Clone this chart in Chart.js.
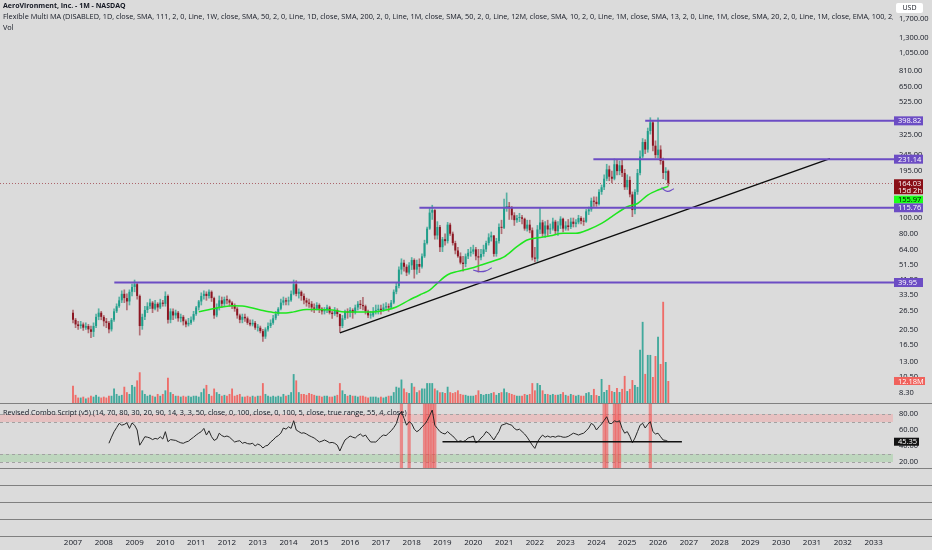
<!DOCTYPE html>
<html><head><meta charset="utf-8">
<script src="https://cdn.jsdelivr.net/npm/chart.js@4.4.1/dist/chart.umd.min.js"></script>
<style>
html,body{margin:0;padding:0;background:#dbdbdb;}
#wrap{position:relative;width:932px;height:550px;overflow:hidden;background:#dbdbdb;font-family:'Open Sans',sans-serif;}
canvas{position:absolute;left:0;}
.sep{position:absolute;left:0;width:932px;height:1px;background:#808080;}
.txt{position:absolute;left:3px;white-space:nowrap;overflow:hidden;color:#131722;font-size:7.3px;line-height:10px;}
#usd{position:absolute;left:896px;top:3px;width:27px;height:10px;background:#fff;border-radius:2px;font-size:7px;line-height:10px;text-align:center;color:#131722;}
</style></head><body>
<div id="wrap">
<canvas id="cp" width="932" height="403" style="top:0"></canvas>
<canvas id="cr" width="932" height="64" style="top:404px"></canvas>
<canvas id="cx" width="932" height="81" style="top:469px"></canvas>
<div class="sep" style="top:403px"></div>
<div class="sep" style="top:468px"></div>
<div class="sep" style="top:485px"></div>
<div class="sep" style="top:502px"></div>
<div class="sep" style="top:519px"></div>
<div class="sep" style="top:536px"></div>
<div class="txt" style="top:1px;font-weight:bold;font-size:7px;">AeroVironment, Inc. - 1M - NASDAQ</div>
<div class="txt" style="top:11px;width:890px;">Flexible Multi MA (DISABLED, 1D, close, SMA, 111, 2, 0, Line, 1W, close, SMA, 50, 2, 0, Line, 1D, close, SMA, 200, 2, 0, Line, 1M, close, SMA, 50, 2, 0, Line, 12M, close, SMA, 10, 2, 0, Line, 1M, close, SMA, 13, 2, 0, Line, 1M, close, SMA, 20, 2, 0, Line, 1M, close, EMA, 100, 2, 0, Line)</div>
<div class="txt" style="top:22px;">Vol</div>
<div class="txt" style="top:407px;font-size:7.3px;">Revised Combo Script (v5) (14, 70, 80, 30, 20, 90, 14, 3, 3, 50, close, 0, 100, close, 0, 100, 5, close, true range, 55, 4, close)</div>
<div id="usd">USD</div>
</div>
<script>
// ---------- DATA (monthly, Jan 2007 .. May 2026) ----------
const opens = [
 26,23.5,22,21.5,22,21,21.5,20.5,19.8,21.5,24.5,26,
 24.5,23,22.5,20.5,23.5,26.5,28.5,31,34,32,30.5,35,
 37.5,39,33,21.5,24.5,27,28.5,30,27.5,29.5,28,30,
 29.5,33,23.5,26.5,25,26,24,24.5,23,22,22.5,23.5,
 25.5,28,30.5,33,34,33,35,32,25,28,31,29.5,
 31.5,31,30,29,27.5,25,23.5,24.5,24,22.5,22,22.5,
 21,21,20,18.5,20.5,21.5,22.5,24,25.5,27.5,30,31,
 30.5,31,34,39,34,35,33,31,30,29.5,28,27.5,
 29,27.5,26.5,27,28,26,25.5,27,25.5,21.5,24,26.5,
 26,27,26,28,29.5,29,28.5,26.5,25,25,26.5,27,
 27.5,27,28,28.5,28,30,35,38,48,53,50,46,
 51,55,48,52,50,58,70,86,108,112,78,88,
 66,74,72,91,80,70,63,58,53,52,58,61,
 62,64,58,57,60,64,70,76,78,60,72,88,
 87,117,118,116,104,97,100,101,99,86,91,84,
 57,56,85,94,80,90,85,86,95,83,90,99,
 86,90,88,95,92,94,100,96,95,110,113,128,
 126,122,145,155,175,200,180,175,215,195,212,190,
 155,172,140,112,145,190,240,295,265,345,390,280,
 245,265,225,190,195];
const highs = [
 27,24,23,23,22.5,22.5,22,21.5,22.5,25.5,27.5,26.5,
 25,24,23,24,27.5,29.5,32.5,35.5,36,34,36,39,
 41.4,40,33.5,25.5,28.5,30,31.5,30.5,31,30,31.5,31,
 35,33.5,27.5,27.5,27,26.5,25.5,25,23.5,24,24.5,26.5,
 28.5,31,34.5,35.5,35,36,35.5,32.5,29.5,33,32.5,32.5,
 33,31.5,30.5,29.5,28,25.5,25.5,25.5,24.5,23.5,23.5,23,
 22,21.5,20.5,21,22.5,23.5,25,26.5,28,31.5,32.5,32,
 32.5,35.5,41.4,41,36.5,35.5,34,32,31.5,30.5,29.5,30,
 29.5,28,28,29,28.5,26.5,28,27.5,25.5,25,27,27.5,
 28,27.5,29,30.5,31,32.4,29,27,26.5,28,29,29,
 29,29.5,30,29.5,31,36,39.5,50,56,55,51.5,53,
 57,56,55,56,60,73,88,115,120,113,95,90,
 76,80,94,93,82,72,66,61,58,60,64,66,
 68,66,64,64,68,72,80,82,78,75,92,97,
 131,143,125,118,108,104,107,104,100,97,97,87,
 66,90,115,97,95,97,92,100,97,95,102,100,
 95,98,100,100,98,104,102,100,113,117,133,135,
 135,150,160,185,215,210,195,232,228,225,230,200,
 185,180,145,150,200,260,310,305,360,417,400,300,
 416,280,235,205,198];
const lows = [
 22.5,21,20.5,20.8,20.2,20.5,19.5,18.2,18.5,21,23.5,23.5,
 21.5,21,19.5,20,23,26,28,30,30,27,29,33,
 35,31.5,18.9,20.5,23.5,26,27.5,26,27,26.5,27.5,28.5,
 28.5,22.4,22.5,23.5,24,23,22.8,21.8,21.2,21.5,22,23,
 25,27,29,31.5,31,32,30.5,24,24.5,27,28,28.5,
 29.5,28.5,27.5,26.5,24,22.5,22.5,23,22,21.5,21.5,20.5,
 20,19.5,17.3,18,20,21,22,23.5,25,27,29,29,
 29,30.5,33.5,33,32,31,29.5,28.5,28,26.5,26,27,
 26,25.5,25.5,26,25.5,24,25,24.5,19.7,21,23.5,24,
 24.5,24,25.5,27,27.5,27,25.5,24.2,24,24.5,25.5,25.5,
 25.5,26.5,27,26.5,27.5,29.5,34,37,45,47,44,45,
 48,42.5,45,46,49,57,69,85,98,74,74,62,
 62,68,70,78,68,60,57,52,47,50,56,58,
 60,55,46.3,55,58,62,68,72,58,58,70,80,
 86,110,98,98,90,94,95,92,84,83,81,55,
 53.5,54,80,77,76,78,80,84,80,78,86,82,
 84,84,86,88,88,92,92,90,94,105,110,118,
 118,120,140,150,170,170,165,172,185,185,180,150,
 150,135,102,106,140,185,235,250,255,330,260,235,
 235,215,175,172,158];
const closes = [
 23.5,22,21.5,22,21,21.5,20.5,19.8,21.5,24.5,26,24.5,
 23,22.5,20.5,23.5,26.5,28.5,31,34,32,30.5,35,37.5,
 39,33,21.5,24.5,27,28.5,30,27.5,29.5,28,30,29.5,
 33,23.5,26.5,25,26,24,24.5,23,22,22.5,23.5,25.5,
 28,30.5,33,34,33,35,32,25,28,31,29.5,31.5,
 31,30,29,27.5,25,23.5,24.5,24,22.5,22,22.5,21,
 21,20,18.5,20.5,21.5,22.5,24,25.5,27.5,30,31,30.5,
 31,34,39,34,35,33,31,30,29.5,28,27.5,29,
 27.5,26.5,27,28,26,25.5,27,25.5,21.5,24,26.5,26,
 27,26,28,29.5,29,28.5,26.5,25,25,26.5,27,27.5,
 27,28,28.5,28,30,35,38,48,53,50,46,51,
 55,48,52,50,58,70,86,108,112,78,88,66,
 74,72,91,80,70,63,58,53,52,58,61,62,
 64,58,57,60,64,70,76,78,60,72,88,87,
 117,118,116,104,97,100,101,99,86,91,84,57,
 56,85,94,80,90,85,86,95,83,90,99,86,
 90,88,95,92,94,100,96,95,110,113,128,126,
 122,145,155,175,200,180,175,215,195,212,190,155,
 172,140,112,145,190,240,295,265,345,390,280,245,
 265,225,190,195,164.03];
const volumes = [ // millions
 9.5,4.5,3,3,3.5,2.5,3,4,3.5,4.5,3.5,3,
 3.5,3,4,4,8,5,4,4.5,9,6,5,10,
 9,12.5,17,7,5,4,4.5,4,3.5,5,4,5,
 7,14,6,5,4,4,3.5,4,3.5,4,3.5,4,
 4,3.5,6,8,10,5,4,8,6,5,4,4.5,
 4,5,8,4,4.5,5,3.5,3.5,4,3.5,4,3.5,
 4,4,11,5,4,3.5,4,3.5,4,3.5,5,4,
 4.5,6,16,12.5,6,5,5,4.5,5.5,5,4.5,4,
 4,3.5,4,4,3.5,3.5,4,4.5,11,7,5,4,
 4.5,4,4,3.5,4,4,3.5,3,3.5,3.5,3.5,3,
 3.5,3,3.5,4,4,6,9,8.5,13,8,6,5.5,
 11,9,6,7,8,8,11,11,11,8,7,6,
 6,5.5,9,6,5.5,6,7,5,4.5,4.5,4,4,
 4,4.5,7,5,4.5,5,5,5.5,6,4.5,5.5,6,
 8,6,5.5,5,4.5,4,4,4,5,4.5,5,11,
 7,11,10,7,5,5,4.5,5,4.5,4.5,5,6,
 4.5,4,5,4.5,4,4.5,4,4,5.5,6,4.4,7.8,
 4.4,3.9,13.3,6.1,7.2,10,6.6,6.1,8.3,6.1,7.8,15,
 6.6,7.8,12.7,10,8.9,29.4,44.9,16.1,26.6,26.6,14.4,26,
 36.6,21.6,56,22.7,12.18];
// 50-month SMA (month index, value)
const maMonths = [49,56,62,66,73,78,83,86,91,95,101,106,112,117,122,126,131,136,139,142,146,150,155,159,163,168,173,177,181,186,191,196,201,206,210,216,220,224,228,232];
const maValues = [26.3,27.8,28.7,28.6,27,26.1,25.9,26.3,27.2,27.2,27,26.3,26.3,26.3,27,28.2,31.1,34,35.8,39.6,44.6,46.8,48.9,51.2,53.7,57.6,66.5,73.1,75.5,77.7,80.4,80.4,85,92.7,102,117.5,123,138.8,149,157];
const maLabel = 155.97;
// RSI (14) from month 14 onward
const rsiStart = 14;
const rsiValues = [
 43.4,51,57.9,63,68.3,66,67,69,62,68.7,
 66,60,41,46,51.6,51,50,48,49.5,48.7,
 51.6,48.7,57.9,45.4,48,47.5,47,45.4,44,43.4,
 45,46,48.7,51,53.7,56,58,62,53.7,59,
 51.6,47,48.7,56,53,51.6,52.5,51,48,45,
 46,46.6,43.4,44.5,43,42.5,43.5,40,42.5,41,
 37.5,40,41,45,47.5,51,53,56,62.5,61,
 64,62,71.6,60,58,56,56.5,55,53,51.5,
 50,47.5,45,46,47.5,46,44,44.5,43.4,41,
 33.75,41,47.5,50,52.5,51,50,53,55,52,
 53.7,49,45,45,45,48,51.6,53.7,53,56,
 59,63,68,78.7,83,74.6,66,70.4,68,61,
 57.9,60,64,67,71.6,78,85,66,62,58,
 56,55,58,55,52.5,49,45.4,46.5,45.4,47,
 50,51,52.5,44,46,50,53,58,56,52,
 47.5,53,58,66,67,68.3,67,66,62,60,
 61,58,55,51,46,41,37,45,50,53.7,
 51,52.5,51,52,51,52.5,52,51,51,52,
 54,56,55,53.7,55,56,59,62.5,68.3,66,
 60,64,67.5,72,76.6,68.3,68,71.6,70,71.6,
 62,56,58,52,44,50,58,66,68.3,62.5,
 67,70.4,58,55,56,51.6,47.5,47,45.35];
const signalMonths = [128,131,137,138,139,140,141,207,208,211,212,213,225];
const rsiSupport = {from:144, to:237.3, value:45.4};
const rsiZones = [{lo:70, hi:80}, {lo:20, hi:30}];
const rsiDashes = [80,70,30,20];
// drawn levels and trend line
const levelValues = [398.82, 231.14, 115.76, 39.95];
const levelStarts = [223, 202.8, 135, 16.1];
const trendMonths = [104, 295];
const trendPrices = [19.5, 233];
const arc1Months = [156, 158.6, 161, 163.2], arc1Prices = [47.7, 46.6, 47.2, 49.3];
const arc2Months = [229.3, 231.6, 234.2], arc2Prices = [154, 146.3, 151.7];
// axis ticks
const priceTicks = [1700,1300,1050,810,650,525,325,245,195,100,80,64,51.5,41.5,33.5,26.5,20.5,16.5,13,10.5,8.3];
const rsiTicks = [80,60,40,20];
const yearLabels = ['2007','2008','2009','2010','2011','2012','2013','2014','2015','2016','2017','2018','2019','2020','2021','2022','2023','2024','2025','2026','2027','2028','2029','2030','2031','2032','2033'];

// ---------- view ranges ----------
const X_MIN = -28.45, X_MAX = 320.35;
const PRICE_MIN = 7.19, PRICE_MAX = 2227;
const VOL_MAX = 223;
const RSI_MIN = 12.5, RSI_MAX = 92.5;

Chart.defaults.font.family = "'Open Sans', sans-serif";
Chart.defaults.font.size = 7.5;
Chart.defaults.color = '#131722';
Chart.defaults.animation = false;

const fmt = v => Number(v).toLocaleString('en-US',{minimumFractionDigits:2, maximumFractionDigits:2});
const months = closes.map((_, i) => i);
const up = months.map(i => closes[i] >= opens[i]);
const lastI = closes.length - 1;
const noPad = s => { s.width = 37; s.paddingTop = 0; s.paddingBottom = 0; };

function drawBadge(ctx, left, top, w, h, bg, fg, texts){
  ctx.save();
  ctx.fillStyle = bg; ctx.fillRect(left, top, w, h);
  ctx.fillStyle = fg; ctx.font = "7.5px 'Open Sans', sans-serif";
  ctx.textBaseline = 'middle'; ctx.textAlign = 'left';
  const lh = h / texts.length;
  texts.forEach((t, k) => ctx.fillText(t, left + 4, top + lh * k + lh / 2 + 0.5));
  ctx.restore();
}

const PURPLE = '#6c4dc4';
const pricePlugin = {
  id: 'pricePlugin',
  beforeDatasetsDraw(ch){
    const {ctx, chartArea:a, scales:{y}} = ch;
    const py = Math.round(y.getPixelForValue(closes[lastI])) + 0.5;
    ctx.save(); ctx.strokeStyle = 'rgba(140,20,30,0.6)'; ctx.lineWidth = 1; ctx.setLineDash([1,2]);
    ctx.beginPath(); ctx.moveTo(a.left, py); ctx.lineTo(a.right, py); ctx.stroke(); ctx.restore();
  },
  afterDraw(ch){
    const {ctx, chartArea:a, scales:{y, yv}} = ch;
    const L = a.right - 1;
    levelValues.forEach(v => {
      const py = y.getPixelForValue(v);
      drawBadge(ctx, L, py - 4.5, 29, 9, PURPLE, '#fff', [fmt(v)]);
    });
    const pc = y.getPixelForValue(closes[lastI]);
    drawBadge(ctx, L, pc - 4, 29, 15, '#8a0f17', '#fff', [fmt(closes[lastI]), '15d 2h']);
    drawBadge(ctx, L, pc + 12.4, 29, 7.5, '#1cff1c', '#000', [fmt(maLabel)]);
    const pv = yv.getPixelForValue(volumes[lastI]);
    drawBadge(ctx, L, pv - 4, 31, 8, '#f0625c', '#fff', [volumes[lastI].toFixed(2) + 'M']);
  }
};

const lineDs = (xs, ys, color, width, extra) => Object.assign({
  type:'line', data: xs.map((x, k) => ({x, y: ys[k]})), borderColor: color, borderWidth: width,
  pointRadius: 0, fill: false, yAxisID: 'y'
}, extra || {});

new Chart(document.getElementById('cp'), {
  type: 'bar',
  data: { datasets: [
    lineDs(trendMonths, trendPrices, '#0d0d0d', 1.4, {order: 2}),
    ...levelValues.map((v, k) => lineDs([levelStarts[k], X_MAX], [v, v], PURPLE, 2, {order: 1})),
    lineDs(arc1Months, arc1Prices, PURPLE, 1.2, {tension: 0.5, order: 1}),
    lineDs(arc2Months, arc2Prices, PURPLE, 1.2, {tension: 0.5, order: 1}),
    lineDs(maMonths, maValues, '#1ee61e', 1.5, {cubicInterpolationMode: 'monotone', order: 3}),
    { label:'body', data: months.map(i => ({x: i, y: [opens[i], closes[i]]})), yAxisID:'y',
      backgroundColor: months.map(i => up[i] ? '#1f9e8a' : '#8c1521'),
      grouped:false, barPercentage:0.85, categoryPercentage:0.9, minBarLength:1, order: 5 },
    { label:'wick', data: months.map(i => ({x: i, y: [lows[i], highs[i]]})), yAxisID:'y',
      backgroundColor: months.map(i => up[i] ? 'rgba(31,158,138,0.7)' : 'rgba(140,21,33,0.55)'),
      grouped:false, barThickness:1, order: 6 },
    { label:'vol', data: months.map(i => ({x: i, y: volumes[i]})), yAxisID:'yv',
      backgroundColor: months.map(i => up[i] ? 'rgba(38,160,145,0.85)' : 'rgba(242,88,84,0.85)'),
      grouped:false, barPercentage:0.8, categoryPercentage:0.9, order: 10 }
  ]},
  options: {
    responsive:false, animation:false, layout:{padding:0},
    plugins:{legend:{display:false}, tooltip:{enabled:false}},
    scales:{
      x:{type:'linear', min:X_MIN, max:X_MAX, offset:false, display:false},
      y:{type:'logarithmic', position:'right', min:PRICE_MIN, max:PRICE_MAX,
         grid:{display:false, drawTicks:false}, border:{display:false},
         ticks:{autoSkip:false, padding:4, color:'#131722', font:{size:7.5}, callback: v => fmt(v)},
         afterBuildTicks: s => { s.ticks = priceTicks.map(v => ({value: v})); },
         afterFit: noPad},
      yv:{type:'linear', display:false, min:0, max:VOL_MAX}
    }
  },
  plugins:[pricePlugin]
});

const rsiPlugin = {
  id:'rsiPlugin',
  beforeDatasetsDraw(ch){
    const {ctx, chartArea:a, scales:{y}} = ch;
    ctx.save();
    const fills = ['rgba(255,140,140,0.32)', 'rgba(110,200,110,0.26)'];
    rsiZones.forEach((z, k) => {
      const y1 = y.getPixelForValue(z.hi), y2 = y.getPixelForValue(z.lo);
      ctx.fillStyle = fills[k]; ctx.fillRect(a.left, y1, a.right - a.left - 2, y2 - y1);
    });
    ctx.strokeStyle = '#a2a2a2'; ctx.lineWidth = 1; ctx.setLineDash([3,3]);
    rsiDashes.forEach(v => {
      const py = Math.round(y.getPixelForValue(v)) + 0.5;
      ctx.beginPath(); ctx.moveTo(a.left, py); ctx.lineTo(a.right - 2, py); ctx.stroke();
    });
    ctx.restore();
  },
  afterDraw(ch){
    const {ctx, chartArea:a, scales:{y}} = ch;
    const last = rsiValues[rsiValues.length - 1];
    drawBadge(ctx, a.right - 1, y.getPixelForValue(last) - 4, 25, 8, '#131313', '#fff', [fmt(last)]);
  }
};

new Chart(document.getElementById('cr'), {
  type:'bar',
  data:{ datasets:[
    { type:'line', data: rsiValues.map((v, k) => ({x: rsiStart + k, y: v})), borderColor:'#262626', borderWidth:1, pointRadius:0, order:1 },
    { type:'line', data: [{x: rsiSupport.from, y: rsiSupport.value}, {x: rsiSupport.to, y: rsiSupport.value}], borderColor:'#111', borderWidth:1.6, pointRadius:0, order:0 },
    { data: signalMonths.map(m => ({x: m, y: [RSI_MIN, RSI_MAX]})), backgroundColor:'rgba(242,70,70,0.55)', grouped:false, barPercentage:1, categoryPercentage:1, order:5 }
  ]},
  options:{
    responsive:false, animation:false, layout:{padding:0},
    plugins:{legend:{display:false}, tooltip:{enabled:false}},
    scales:{
      x:{type:'linear', min:X_MIN, max:X_MAX, offset:false, display:false},
      y:{type:'linear', position:'right', min:RSI_MIN, max:RSI_MAX, grid:{display:false, drawTicks:false}, border:{display:false},
         ticks:{autoSkip:false, padding:4, color:'#131722', font:{size:7.5}, callback: v => fmt(v)},
         afterBuildTicks: s => { s.ticks = rsiTicks.map(v => ({value: v})); },
         afterFit: noPad}
    }
  },
  plugins:[rsiPlugin]
});

const yearTicks = yearLabels.map((_, k) => k * 12);
new Chart(document.getElementById('cx'), {
  type:'line',
  data:{ datasets:[] },
  options:{
    responsive:false, animation:false, layout:{padding:0},
    plugins:{legend:{display:false}, tooltip:{enabled:false}},
    scales:{
      x:{type:'linear', min:X_MIN, max:X_MAX, offset:false, grid:{display:false, drawTicks:false}, border:{display:false},
         ticks:{autoSkip:false, maxRotation:0, minRotation:0, padding:2, color:'#131722', font:{size:8}, callback: v => yearLabels[yearTicks.indexOf(v)]},
         afterBuildTicks: s => { s.ticks = yearTicks.map(v => ({value: v})); },
         afterFit: s => { s.height = 14; }},
      y:{type:'linear', position:'right', min:0, max:1, grid:{display:false}, border:{display:false},
         ticks:{display:false}, afterFit: s => { s.width = 37; }}
    }
  }
});
</script>
</body></html>
